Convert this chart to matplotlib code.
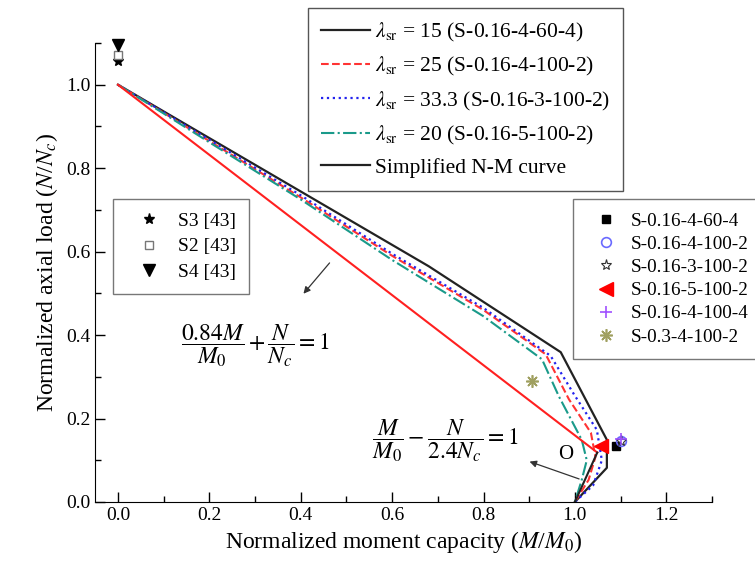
import matplotlib
matplotlib.use("Agg")
import matplotlib.pyplot as plt
from matplotlib.ticker import MultipleLocator
from matplotlib.lines import Line2D

plt.rcParams['font.family'] = ['Liberation Serif', 'DejaVu Serif']
plt.rcParams['mathtext.fontset'] = 'stix'

# FE curves (M/M0, N/Nc)
x15 = [0.0, 0.68, 0.969, 1.07, 1.07, 1.0]
y15 = [1.0, 0.565, 0.359, 0.149, 0.082, 0.0]

x25 = [0.0, 0.2, 0.4, 0.6, 0.8, 0.936, 0.987, 1.035, 1.045, 1.03, 1.0]
y25 = [1.0, 0.865, 0.73, 0.59, 0.46, 0.354, 0.246, 0.166, 0.108, 0.053, 0.0]

x33 = [0.0, 0.2, 0.4, 0.6, 0.8, 0.947, 0.998, 1.048, 1.059, 1.04, 1.0]
y33 = [1.0, 0.868, 0.735, 0.595, 0.465, 0.35, 0.258, 0.173, 0.10, 0.04, 0.0]

x20 = [0.0, 0.2, 0.4, 0.6, 0.8, 0.928, 0.965, 1.015, 1.026, 1.015, 1.0]
y20 = [1.0, 0.862, 0.725, 0.58, 0.445, 0.342, 0.253, 0.149, 0.10, 0.053, 0.0]

# simplified N-M curve: 0.84M/M0 + N/Nc = 1 and M/M0 - N/(2.4Nc) = 1
xs_red = [0.0, 1.049]
ys_red = [1.0, 0.1185]
xs_low = [1.049, 1.0]
ys_low = [0.1185, 0.0]

# test points
test_names = ['S-0.16-4-60-4', 'S-0.16-4-100-2', 'S-0.16-3-100-2',
              'S-0.16-5-100-2', 'S-0.16-4-100-4', 'S-0.3-4-100-2']
test_x = [1.09, 1.10, 1.10, 1.057, 1.10, 0.906]
test_y = [0.133, 0.147, 0.147, 0.135, 0.15, 0.289]

ref_names = ['S3 [43]', 'S2 [43]', 'S4 [43]']
ref_x = [0.0, 0.0, 0.0]
ref_y = [1.058, 1.072, 1.094]

fig = plt.figure(figsize=(7.55, 5.81), dpi=100)
ax = fig.add_axes([0.126, 0.136, 0.817, 0.79])

l1, = ax.plot(x15, y15, '-', color='#222222', lw=1.6)
l2, = ax.plot(x25, y25, '--', color='#ff3333', lw=1.5)
l3, = ax.plot(x33, y33, ':', color='#2222ee', lw=1.6)
l4, = ax.plot(x20, y20, '-.', color='#1a9a8a', lw=1.5)
ax.plot(xs_red, ys_red, '-', color='#ff2020', lw=1.5)
ax.plot(xs_low, ys_low, '-', color='#222222', lw=1.5)
l5 = Line2D([], [], color='#222222', lw=1.6)

# test markers
m_styles = [dict(marker='s', color='k', mfc='k', ms=6),
            dict(marker='o', color='#6a6aff', mfc='none', ms=7, mew=1.2),
            dict(marker='*', color='#333333', mfc='none', ms=8, mew=0.8),
            dict(marker='<', color='#ff0000', mfc='#ff0000', ms=10),
            dict(marker='+', color='#a050ff', mfc='none', ms=8, mew=1.2),
            dict(marker=(8, 2, 0), color='#a0a060', ms=9, mew=1.2)]
t_handles = []
for i in range(len(test_names)):
    h, = ax.plot([test_x[i]], [test_y[i]], ls='none', **m_styles[i])
    t_handles.append(h)

r_styles = [dict(marker='*', color='k', mfc='k', ms=8),
            dict(marker='s', color='#777777', mfc='white', ms=6, mew=1.0),
            dict(marker='v', color='k', mfc='k', ms=8)]
r_handles = []
for i in range(len(ref_names)):
    h, = ax.plot([ref_x[i]], [ref_y[i]], ls='none', clip_on=False, **r_styles[i])
    r_handles.append(h)

ax.set_xlim(-0.05, 1.3)
ax.set_ylim(0, 1.1)
ax.xaxis.set_minor_locator(MultipleLocator(0.1))
ax.yaxis.set_minor_locator(MultipleLocator(0.1))
ax.set_xticks([0, 0.2, 0.4, 0.6, 0.8, 1.0, 1.2])
ax.set_xticklabels(['0.0', '0.2', '0.4', '0.6', '0.8', '1.0', '1.2'])
ax.set_yticks([0, 0.2, 0.4, 0.6, 0.8, 1.0])
ax.set_yticklabels(['0.0', '0.2', '0.4', '0.6', '0.8', '1.0'])
ax.tick_params(which='both', direction='in', labelsize=14, width=1.0)
ax.tick_params(which='major', length=7)
ax.tick_params(which='minor', length=4)
ax.spines['top'].set_visible(False)
ax.spines['right'].set_visible(False)
ax.set_xlabel('Normalized moment capacity ($M$/$M_0$)', fontsize=17)
ax.set_ylabel('Normalized axial load ($N$/$N_c$)', fontsize=17)

lam_labels = [r'$\lambda_{\rm sr}$ = 15 (S-0.16-4-60-4)',
              r'$\lambda_{\rm sr}$ = 25 (S-0.16-4-100-2)',
              r'$\lambda_{\rm sr}$ = 33.3 (S-0.16-3-100-2)',
              r'$\lambda_{\rm sr}$ = 20 (S-0.16-5-100-2)',
              'Simplified N-M curve']
leg1 = fig.legend([l1, l2, l3, l4, l5], lam_labels, loc='upper left',
                  bbox_to_anchor=(0.408, 0.986), fontsize=15.5, handlelength=2.3,
                  labelspacing=0.52, fancybox=False, edgecolor='#555555',
                  framealpha=1, handletextpad=0.2, borderpad=0.6,
                  borderaxespad=0)
leg2 = fig.legend(r_handles, ref_names, loc='upper left',
                  bbox_to_anchor=(0.15, 0.657), fontsize=14, handlelength=2.4,
                  fancybox=False, edgecolor='#777777', framealpha=1,
                  labelspacing=0.42, handletextpad=0.3, borderpad=0.65,
                  borderaxespad=0)
leg3 = fig.legend(t_handles, test_names, loc='upper left',
                  bbox_to_anchor=(0.759, 0.6575), fontsize=13.8, handlelength=2.0,
                  fancybox=False, edgecolor='#777777', framealpha=1,
                  labelspacing=0.3, handletextpad=0.3, borderpad=0.7,
                  borderaxespad=0)
for lg in (leg1, leg2, leg3):
    lg.get_frame().set_linewidth(1.0)

ax.text(0.3, 0.374, r'$\dfrac{0.84M}{M_0}+\dfrac{N}{N_c}=1$', fontsize=17,
        ha='center', va='center')
ax.text(0.716, 0.148, r'$\dfrac{M}{M_0}-\dfrac{N}{2.4N_c}=1$', fontsize=17,
        ha='center', va='center')
ax.text(0.98, 0.113, 'O', fontsize=15, ha='center', va='center')

ax.annotate('', xy=(0.402, 0.494), xytext=(0.467, 0.578),
            arrowprops=dict(arrowstyle='-|>', color='#333333', lw=0.9))
ax.annotate('', xy=(0.895, 0.099), xytext=(1.015, 0.053),
            arrowprops=dict(arrowstyle='-|>', color='#333333', lw=0.9))

fig.savefig('out.png', dpi=100)
